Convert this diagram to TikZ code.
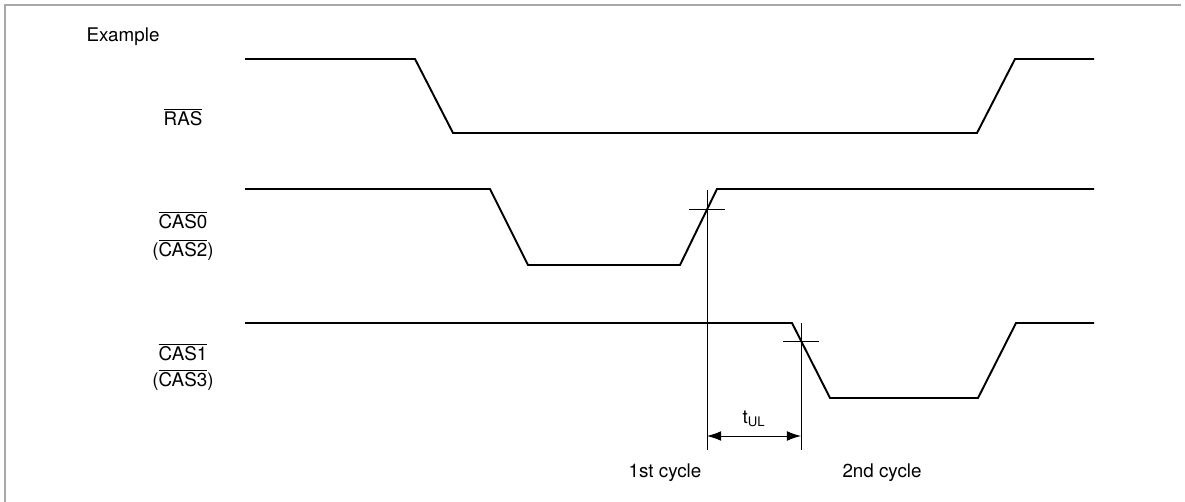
\documentclass[tikz,border=0pt]{standalone}
\usepackage{fontspec}
\setmainfont{TeX Gyre Heros}
\usetikzlibrary{arrows.meta}
\definecolor{framegray}{HTML}{A8A8A8}

\begin{document}
\begin{tikzpicture}[x=0.02cm,y=-0.02cm,every node/.style={font=\fontsize{10.7}{12}\selectfont, inner sep=0pt},signal/.style={line width=1.1pt, line join=miter},guide/.style={line width=0.5pt},dim/.style={line width=0.5pt, {Latex[length=8pt,width=5.5pt]}-{Latex[length=8pt,width=5.5pt]}}]
  \useasboundingbox (0,0) rectangle (1185,502);
  \draw[framegray, line width=1.1pt] (5,502) -- (5,5) -- (1181,5);
  % labels
  \node (example) at (123,37) {Example};
  \node (ras) at (183,117) {$\overline{\mbox{RAS}}$};
  \node (cas0) at (183,220) {$\overline{\mbox{CAS0}}$};
  \node (cas2) at (183,250) {($\overline{\mbox{CAS2}}$)};
  \node (cas1) at (183,352) {$\overline{\mbox{CAS1}}$};
  \node (cas3) at (183,380) {($\overline{\mbox{CAS3}}$)};
  \node (first) at (665,473) {1st cycle};
  \node (second) at (882,473) {2nd cycle};
  % waveforms
  \draw[signal] (245,59) -- (415,59) -- (453,133) -- (977,133) -- (1015,59) -- (1094,59);
  \draw[signal] (245,189) -- (490,189) -- (528,265) -- (680,265) -- (717,189) -- (1094,189);
  \draw[signal] (245,323) -- (792,323) -- (830,398) -- (978,398) -- (1016,323) -- (1094,323);
  % timing
  \coordinate (up) at (707,209.5);
  \coordinate (down) at (801,341);
  \draw[guide] (up |- 0,190) -- (up |- 0,450);
  \draw[guide] (down |- 0,323) -- (down |- 0,450);
  \draw[guide] ([xshift=-10]up) -- ([xshift=10]up);
  \draw[guide] ([xshift=-10]down) -- ([xshift=10]down);
  \draw[dim] (up |- 0,436) -- (down |- 0,436);
  \node (tul) at (754,419) {t\textsubscript{UL}};
\end{tikzpicture}
\end{document}
